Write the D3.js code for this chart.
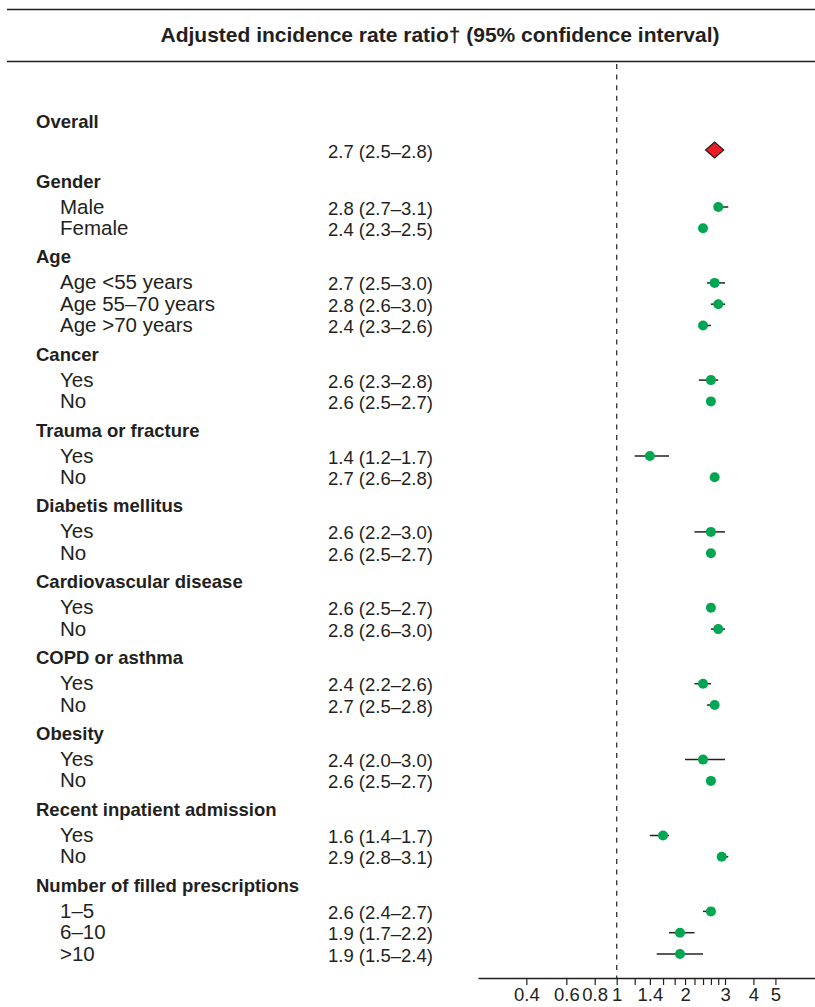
<!DOCTYPE html>
<html>
<head>
<meta charset="utf-8">
<script src="https://cdn.jsdelivr.net/npm/d3@7"></script>
<style>
  html, body { margin: 0; padding: 0; background: #fff; }
  svg { display: block; font-family: "Liberation Sans", Arial, Helvetica, sans-serif; }
</style>
</head>
<body>
<svg id="chart" width="815" height="1007"></svg>
<script>
// Row labels, their role in the table, and the adjusted IRR with 95% CI
const rowLabels = [
  "Overall", "",
  "Gender", "Male", "Female",
  "Age", "Age <55 years", "Age 55–70 years", "Age >70 years",
  "Cancer", "Yes", "No",
  "Trauma or fracture", "Yes", "No",
  "Diabetis mellitus", "Yes", "No",
  "Cardiovascular disease", "Yes", "No",
  "COPD or asthma", "Yes", "No",
  "Obesity", "Yes", "No",
  "Recent inpatient admission", "Yes", "No",
  "Number of filled prescriptions", "1–5", "6–10", ">10"
];
const rowKinds = [
  "header", "overall",
  "header", "item", "item",
  "header", "item", "item", "item",
  "header", "item", "item",
  "header", "item", "item",
  "header", "item", "item",
  "header", "item", "item",
  "header", "item", "item",
  "header", "item", "item",
  "header", "item", "item",
  "header", "item", "item", "item"
];
const estimates = [
  null, 2.7,
  null, 2.8, 2.4,
  null, 2.7, 2.8, 2.4,
  null, 2.6, 2.6,
  null, 1.4, 2.7,
  null, 2.6, 2.6,
  null, 2.6, 2.8,
  null, 2.4, 2.7,
  null, 2.4, 2.6,
  null, 1.6, 2.9,
  null, 2.6, 1.9, 1.9
];
const lowerCI = [
  null, 2.5,
  null, 2.7, 2.3,
  null, 2.5, 2.6, 2.3,
  null, 2.3, 2.5,
  null, 1.2, 2.6,
  null, 2.2, 2.5,
  null, 2.5, 2.6,
  null, 2.2, 2.5,
  null, 2.0, 2.5,
  null, 1.4, 2.8,
  null, 2.4, 1.7, 1.5
];
const upperCI = [
  null, 2.8,
  null, 3.1, 2.5,
  null, 3.0, 3.0, 2.6,
  null, 2.8, 2.7,
  null, 1.7, 2.8,
  null, 3.0, 2.7,
  null, 2.7, 3.0,
  null, 2.6, 2.8,
  null, 3.0, 2.7,
  null, 1.7, 3.1,
  null, 2.7, 2.2, 2.4
];
const tickValues = [0.4, 0.6, 0.8, 1, 1.2, 1.4, 1.6, 1.8, 2, 2.2, 2.4, 2.6, 2.8, 3, 4, 5];
const tickLabels = ["0.4", "0.6", "0.8", "1", "", "1.4", "", "", "2", "", "", "", "", "3", "4", "5"];
const titleText = "Adjusted incidence rate ratio† (95% confidence interval)";

const ink = "#231f20";
const svg = d3.select("#chart");

const rows = rowLabels.map((label, i) => ({
  label, kind: rowKinds[i], est: estimates[i], lo: lowerCI[i], hi: upperCI[i]
}));

// vertical layout: spacing depends on whether a row is a heading or an entry
let yPos = 121;
rows.forEach((r, i) => {
  if (i > 0) {
    const prev = rows[i - 1];
    if (prev.kind === "header") yPos += prev.label === "Overall" ? 29 : 26;
    else if (prev.kind === "overall") yPos += 31;
    else yPos += r.kind === "header" ? 28.6 : 21.3;
  }
  r.y = yPos;
});

// log scale for the ratio
const x = d3.scaleLog().domain([0.245, 7.47]).range([478, 815]);
const axisY = 978;

// header rules and title
svg.append("line").attr("x1", 7).attr("x2", 815).attr("y1", 9.5).attr("y2", 9.5)
  .attr("stroke", ink).attr("stroke-width", 1.4);
svg.append("line").attr("x1", 7).attr("x2", 815).attr("y1", 61.5).attr("y2", 61.5)
  .attr("stroke", ink).attr("stroke-width", 1.4);
svg.append("text").attr("x", 440).attr("y", 42).attr("text-anchor", "middle")
  .attr("font-size", 21).attr("font-weight", "bold").attr("fill", ink).text(titleText);

// reference line at ratio 1
svg.append("line").attr("x1", x(1)).attr("x2", x(1)).attr("y1", 64).attr("y2", axisY)
  .attr("stroke", "#333").attr("stroke-width", 1.3).attr("stroke-dasharray", "5,5.6");

// labels
svg.append("g").selectAll("text").data(rows.filter(r => r.label !== "")).join("text")
  .attr("x", r => r.kind === "header" ? 36 : 60)
  .attr("y", r => r.y + 6.5)
  .attr("font-size", r => r.kind === "header" ? 18.5 : 20.5)
  .attr("font-weight", r => r.kind === "header" ? "bold" : "normal")
  .attr("fill", ink)
  .text(r => r.label);

// estimate column
const fmt = d3.format(".1f");
const estRows = rows.filter(r => r.est != null);
svg.append("g").selectAll("text").data(estRows).join("text")
  .attr("x", 328).attr("y", r => r.y + 7.5)
  .attr("font-size", 18.5).attr("fill", ink)
  .text(r => `${fmt(r.est)} (${fmt(r.lo)}–${fmt(r.hi)})`);

// confidence intervals
svg.append("g").selectAll("line").data(estRows).join("line")
  .attr("x1", r => x(r.lo)).attr("x2", r => x(r.hi))
  .attr("y1", r => r.y).attr("y2", r => r.y)
  .attr("stroke", "#222").attr("stroke-width", 1.5);

// point estimates
svg.append("g").selectAll("circle").data(estRows.filter(r => r.kind === "item")).join("circle")
  .attr("cx", r => x(r.est)).attr("cy", r => r.y).attr("r", 5)
  .attr("fill", "#00a651");

// overall estimate as a diamond
const ov = estRows.filter(r => r.kind === "overall");
svg.append("g").selectAll("path").data(ov).join("path")
  .attr("d", r => {
    const cx = x(r.est), cy = r.y;
    return `M${cx - 9},${cy}L${cx},${cy - 8}L${cx + 9},${cy}L${cx},${cy + 8}Z`;
  })
  .attr("fill", "#ed1c24").attr("stroke", ink).attr("stroke-width", 1.3);

// x axis
const axis = d3.axisBottom(x).tickValues(tickValues)
  .tickFormat((d, i) => tickLabels[i]).tickSize(7).tickSizeOuter(0);
const gAxis = svg.append("g").attr("transform", `translate(0,${axisY})`).call(axis);
gAxis.select(".domain").attr("stroke", ink).attr("stroke-width", 1.3);
gAxis.selectAll(".tick line").attr("stroke", ink).attr("stroke-width", 1.2);
gAxis.selectAll(".tick text").attr("font-size", 18.5).attr("fill", ink)
  .attr("font-family", "Liberation Sans, Arial, sans-serif").attr("y", 10).attr("dy", "0.71em");
</script>
</body>
</html>
